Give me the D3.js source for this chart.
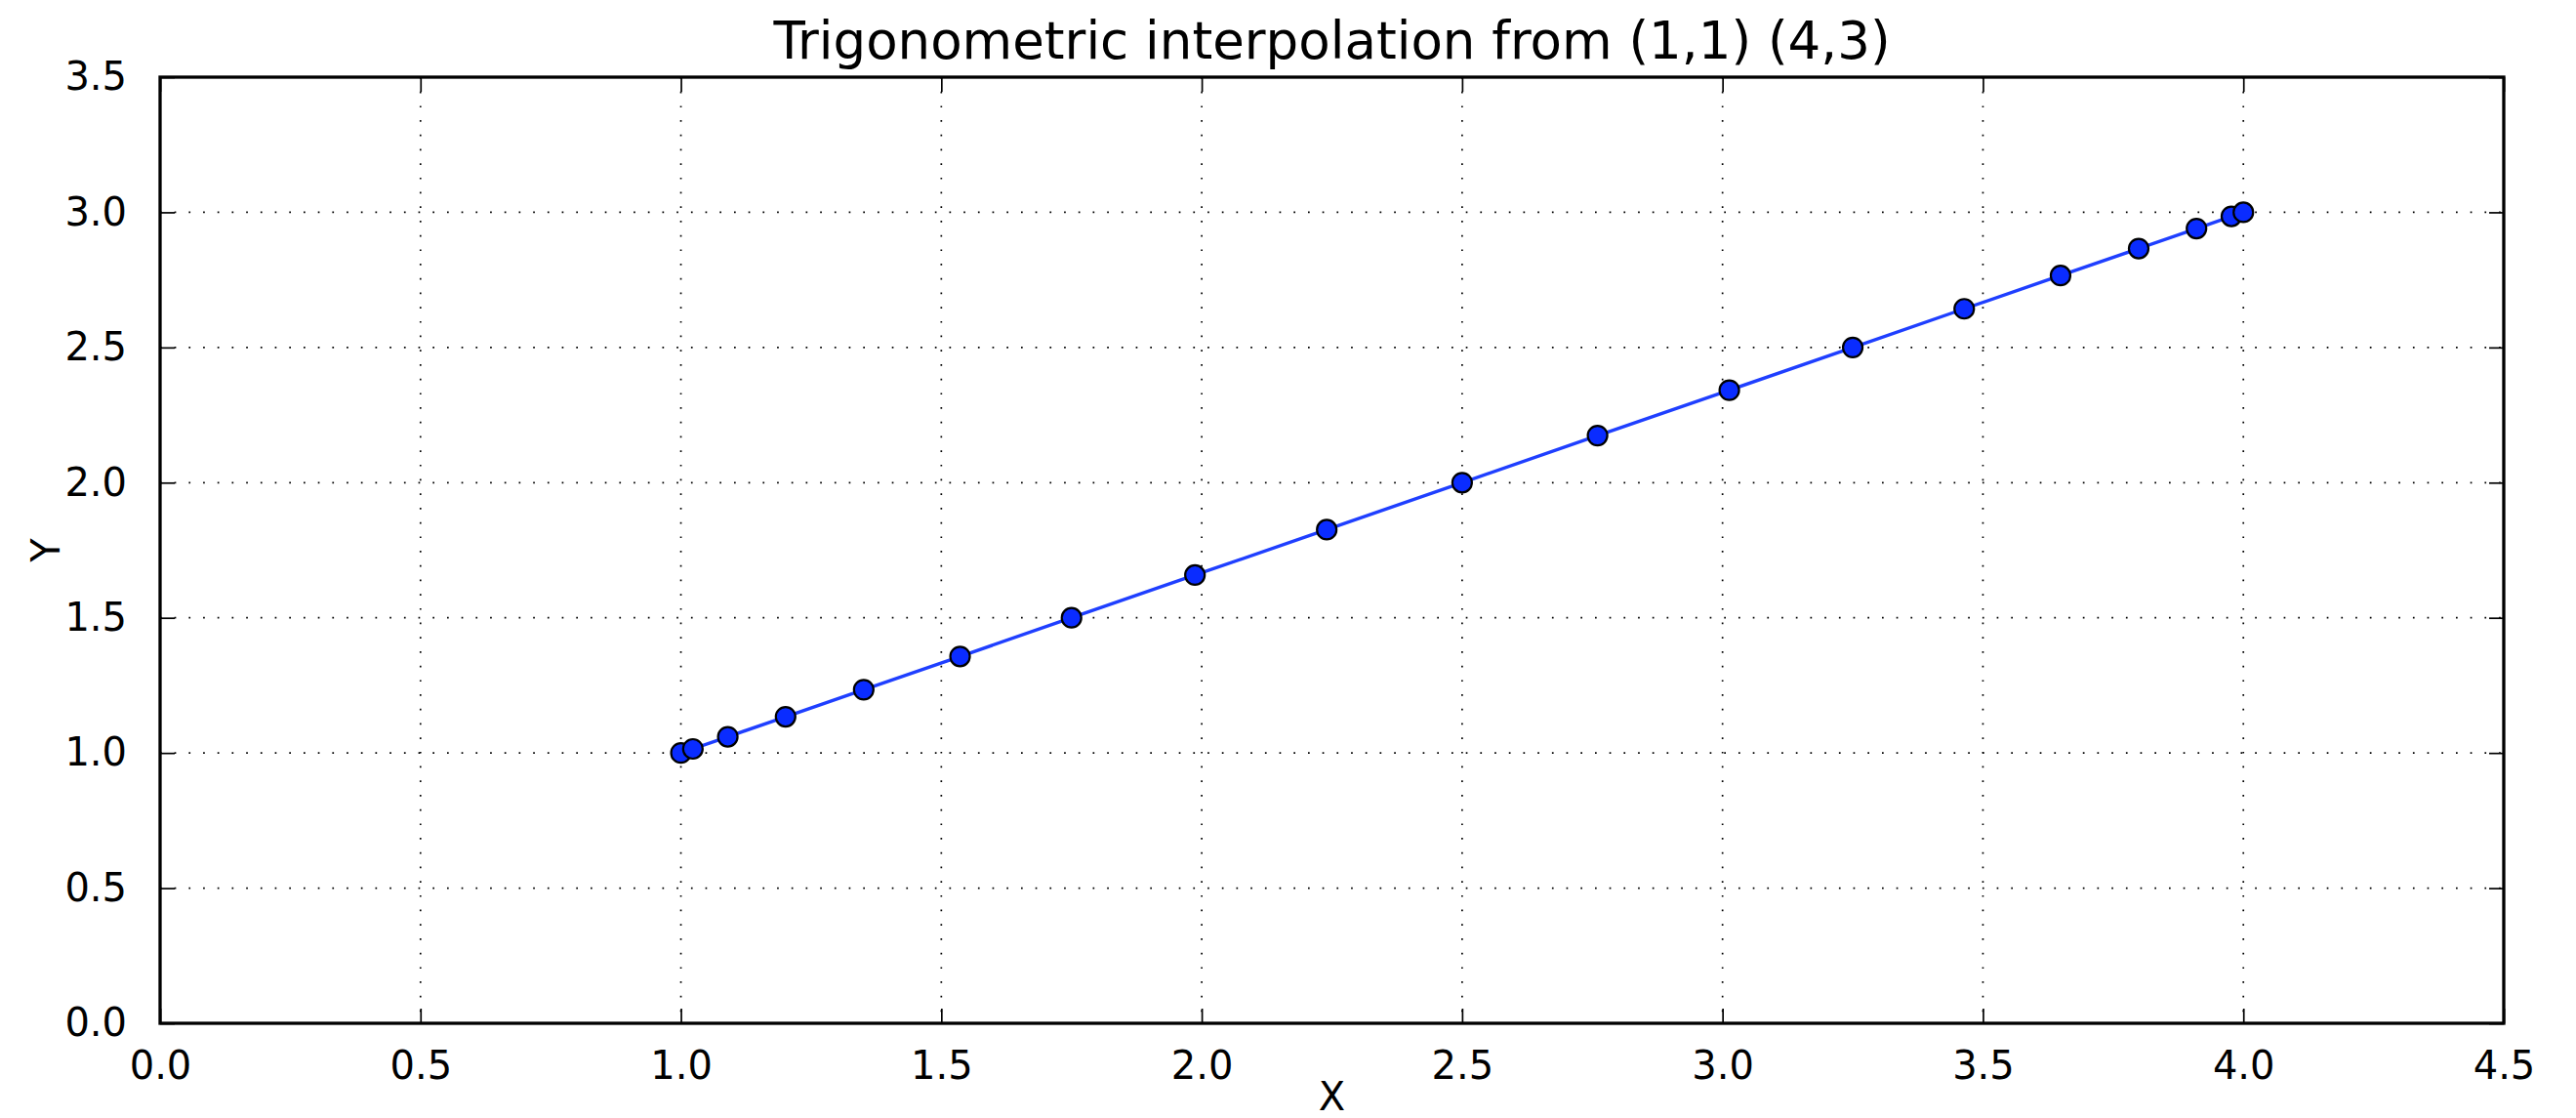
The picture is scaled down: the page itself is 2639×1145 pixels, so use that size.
<!DOCTYPE html>
<html>
<head>
<meta charset="utf-8">
<script src="https://cdn.jsdelivr.net/npm/d3@7"></script>
<style>
  body { margin: 0; background: #fff; }
  text { font-family: "DejaVu Sans", sans-serif; fill: #000; }
</style>
</head>
<body>
<div class="chart"></div>
<script>
// interpolation nodes
const xValues = [1.000, 1.023, 1.090, 1.201, 1.351, 1.536, 1.750, 1.987, 2.240, 2.500,
                 2.760, 3.013, 3.250, 3.464, 3.649, 3.799, 3.910, 3.977, 4.000];
const yValues = [1.000, 1.015, 1.060, 1.134, 1.234, 1.357, 1.500, 1.658, 1.826, 2.000,
                 2.174, 2.342, 2.500, 2.643, 2.766, 2.866, 2.940, 2.985, 3.000];
const xTicks = [0.0, 0.5, 1.0, 1.5, 2.0, 2.5, 3.0, 3.5, 4.0, 4.5];
const yTicks = [0.0, 0.5, 1.0, 1.5, 2.0, 2.5, 3.0, 3.5];
const titleText = "Trigonometric interpolation from (1,1) (4,3)";

const W = 2639, H = 1145;
const margin = {top: 79, right: 74, bottom: 97, left: 164},
      width = W - margin.left - margin.right,
      height = H - margin.top - margin.bottom;

const svg = d3.select(".chart")
    .append("svg")
    .attr("width", W)
    .attr("height", H);

const g = svg.append("g")
    .attr("transform", `translate(${margin.left}, ${margin.top})`);

const x = d3.scaleLinear().domain([0, 4.5]).range([0, width]);
const y = d3.scaleLinear().domain([0, 3.5]).range([height, 0]);

// dotted grid
g.append("g").selectAll("line")
    .data(xTicks.slice(1, -1))
    .join("line")
    .attr("x1", d => x(d)).attr("x2", d => x(d))
    .attr("y1", 0).attr("y2", height)
    .attr("stroke", "#000").attr("stroke-width", 1.7)
    .attr("stroke-dasharray", "1.7,13");
g.append("g").selectAll("line")
    .data(yTicks.slice(1, -1))
    .join("line")
    .attr("y1", d => y(d)).attr("y2", d => y(d))
    .attr("x1", 0).attr("x2", width)
    .attr("stroke", "#000").attr("stroke-width", 1.7)
    .attr("stroke-dasharray", "1.7,13");

// axes: ticks inside on all four sides
const tick = 15;
const fmt = d3.format(".1f");
const bottomAxis = g.append("g")
    .attr("transform", `translate(0, ${height})`)
    .call(d3.axisBottom(x).tickValues(xTicks).tickFormat(fmt).tickSizeInner(-tick).tickSizeOuter(0).tickPadding(tick + 14));
const topAxis = g.append("g")
    .call(d3.axisTop(x).tickValues(xTicks).tickFormat("").tickSizeInner(-tick).tickSizeOuter(0));
const leftAxis = g.append("g")
    .call(d3.axisLeft(y).tickValues(yTicks).tickFormat(fmt).tickSizeInner(-tick).tickSizeOuter(0).tickPadding(tick + 19));
const rightAxis = g.append("g")
    .attr("transform", `translate(${width}, 0)`)
    .call(d3.axisRight(y).tickValues(yTicks).tickFormat("").tickSizeInner(-tick).tickSizeOuter(0));

[bottomAxis, topAxis, leftAxis, rightAxis].forEach(a => {
    a.select(".domain").remove();
    a.selectAll(".tick line").attr("stroke", "#000").attr("stroke-width", 1.7);
    a.selectAll("text")
        .style("font-family", "'DejaVu Sans', sans-serif")
        .style("font-size", "40px")
        .attr("fill", "#222");
});

// frame
g.append("rect")
    .attr("width", width).attr("height", height)
    .attr("fill", "none")
    .attr("stroke", "#000")
    .attr("stroke-width", 3.3);

// the line and its markers
const points = xValues.map((v, i) => ({x: v, y: yValues[i]}));
const line = d3.line().x(d => x(d.x)).y(d => y(d.y));
g.append("path")
    .datum(points)
    .attr("d", line)
    .attr("fill", "none")
    .attr("stroke", "#1f3fff")
    .attr("stroke-width", 3.4);
g.selectAll(".dot")
    .data(points)
    .join("circle")
    .attr("class", "dot")
    .attr("cx", d => x(d.x))
    .attr("cy", d => y(d.y))
    .attr("r", 10)
    .attr("fill", "#0a2cff")
    .attr("stroke", "#000")
    .attr("stroke-width", 2.2);

// titles
svg.append("text")
    .attr("x", margin.left + width / 2)
    .attr("y", 60)
    .attr("text-anchor", "middle")
    .style("font-size", "53px")
    .text(titleText);
svg.append("text")
    .attr("x", margin.left + width / 2)
    .attr("y", 1137)
    .attr("text-anchor", "middle")
    .style("font-size", "40px")
    .attr("fill", "#222")
    .text("X");
svg.append("text")
    .attr("transform", `translate(61, ${margin.top + height / 2}) rotate(-90)`)
    .attr("text-anchor", "middle")
    .style("font-size", "40px")
    .attr("fill", "#222")
    .text("Y");
</script>
</body>
</html>
